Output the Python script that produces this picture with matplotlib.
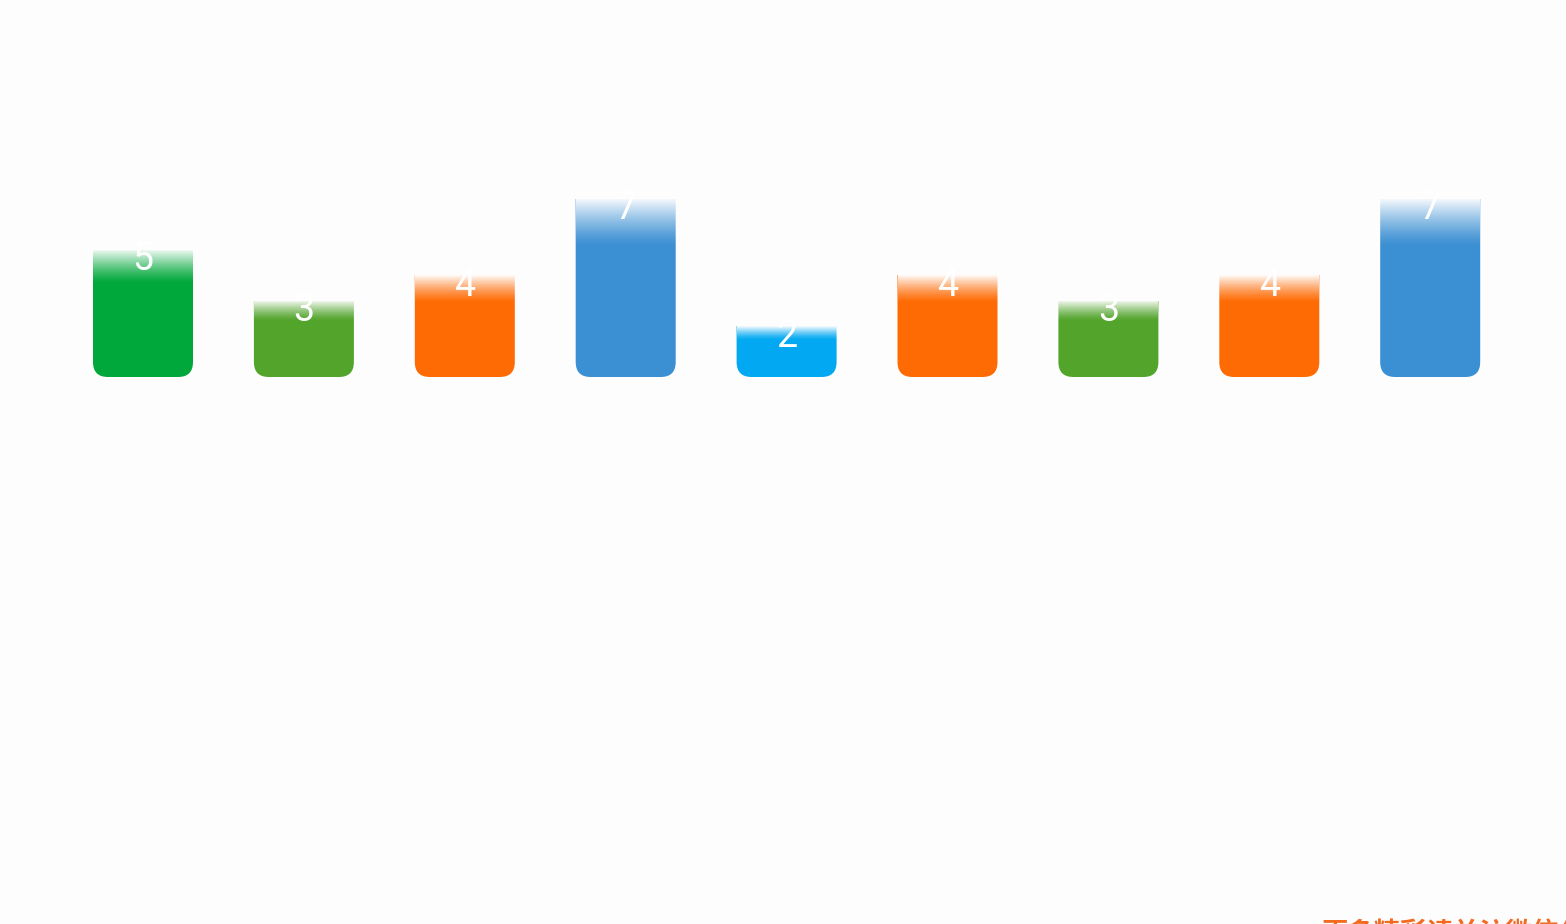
import numpy as np
import matplotlib
matplotlib.use("Agg")
from matplotlib import pyplot as plt
from matplotlib.patches import FancyBboxPatch
from matplotlib.transforms import TransformedBbox, Bbox

# data
values = [5, 3, 4, 7, 2, 4, 3, 4, 7]
colors = ["#00a73a", "#52a42b", "#fe6a03", "#3b8fd3", "#02a9f2",
          "#fe6a03", "#52a42b", "#fe6a03", "#3b8fd3"]
labels = [str(v) for v in values]
footer = "更多精彩请关注微信公众号"

W, H = 1566, 924
bg = "#fdfdfd"
fig = plt.figure(figsize=(W / 100, H / 100), dpi=100, facecolor=bg)
ax = fig.add_axes([0, 0, 1, 1])
ax.set_facecolor(bg)

step_px = 160.9
unit_px = 25.5
ax.set_xlim(-143 / step_px, (W - 143) / step_px)
ax.set_ylim(-(H - 377) / unit_px, 377 / unit_px)
ax.axis("off")

bw = 100 / step_px
r = 15 / step_px
aspect = step_px / unit_px

for i, (v, c, lab) in enumerate(zip(values, colors, labels)):
    x0 = i - bw / 2
    clip = TransformedBbox(Bbox([[x0 - 1, -1], [x0 + bw + 1, v]]), ax.transData)
    # rounded box drawn taller and cut flat at the value -> square top
    body = FancyBboxPatch((x0, 0), bw, v + 1, boxstyle=f"round,pad=0,rounding_size={r}",
                          mutation_aspect=aspect, fc=c, ec="none", zorder=1)
    ax.add_patch(body)
    body.set_clip_box(clip)
    # fade to white at the top
    fade = 0.27 * v
    grad = np.zeros((64, 1, 4))
    grad[..., :3] = 1.0
    t = np.linspace(0, 1, 64)
    grad[:, 0, 3] = 0.97 * (1 - t) ** 1.3
    ax.imshow(grad, extent=[x0, x0 + bw, v - fade, v], aspect="auto",
              interpolation="bilinear", zorder=2)
    txt = ax.text(i, v - 0.4, lab, ha="center", va="center", color="white",
                  fontsize=27, family="Roboto", zorder=3)
    txt.set_clip_box(clip)

ax.set_aspect("auto")
ax.set_xlim(-143 / step_px, (W - 143) / step_px)
ax.set_ylim(-(H - 377) / unit_px, 377 / unit_px)

fig.text(1322 / W, 1 - 920 / H, footer, color="#f26b21", fontsize=19,
         family=["Noto Sans CJK SC", "DejaVu Sans"], fontweight="bold", va="top")

fig.savefig("out.png", dpi=100, facecolor=bg)
